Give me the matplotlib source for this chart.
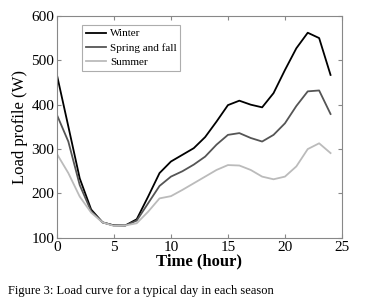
import matplotlib
matplotlib.use("Agg")
import matplotlib.pyplot as plt

# hourly load profile (W) for a typical day
hours = list(range(25))
winter = [467, 351, 234, 164, 135, 128, 128, 142, 193, 246, 272, 287, 302,
          327, 362, 399, 409, 400, 394, 426, 478, 527, 562, 550, 467]
spring_fall = [377, 317, 219, 160, 135, 128, 128, 139, 178, 217, 238, 250, 265,
               283, 310, 332, 336, 325, 317, 332, 358, 397, 430, 432, 379]
summer = [289, 246, 193, 157, 135, 127, 128, 133, 159, 189, 194, 208, 223,
          238, 253, 264, 263, 253, 238, 232, 238, 261, 300, 313, 291]

plt.rcParams["font.family"] = ["Liberation Serif", "DejaVu Serif"]

fig = plt.figure(figsize=(3.77, 3.05), dpi=100, facecolor="white")
ax = fig.add_axes([0.151, 0.220, 0.756, 0.728])

ax.plot(hours, winter, color="black", lw=1.3, label="Winter")
ax.plot(hours, spring_fall, color="#555555", lw=1.3, label="Spring and fall")
ax.plot(hours, summer, color="#bbbbbb", lw=1.3, label="Summer")

ax.set_xlim(0, 25)
ax.set_ylim(100, 600)
ax.set_xticks([0, 5, 10, 15, 20, 25])
ax.set_yticks([100, 200, 300, 400, 500, 600])
ax.tick_params(direction="in", top=True, right=True, length=3,
               labelsize=11, color="#888888", pad=2)
for s in ax.spines.values():
    s.set_color("#888888")
    s.set_linewidth(0.8)

ax.set_xlabel("Time (hour)", fontsize=12, fontweight="bold", labelpad=0)
ax.set_ylabel("Load profile (W)", fontsize=12, labelpad=2)

leg = ax.legend(loc="upper left", bbox_to_anchor=(0.088, 0.96), fontsize=8,
                frameon=True, fancybox=False, edgecolor="#999999",
                handlelength=1.8, handletextpad=0.35, borderpad=0.35,
                labelspacing=0.42, borderaxespad=0)
leg.get_frame().set_linewidth(0.8)

fig.text(0.021, 0.045, "Figure 3: Load curve for a typical day in each season",
         fontsize=9, ha="left", va="center")

fig.savefig("out.png", dpi=100)
